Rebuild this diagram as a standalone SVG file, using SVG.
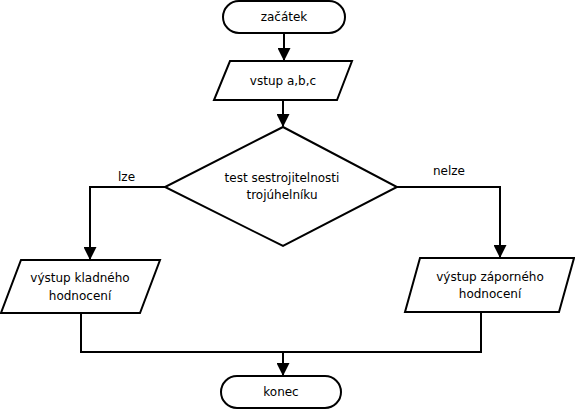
<svg xmlns="http://www.w3.org/2000/svg" width="575" height="409" viewBox="0 0 575 409">
<style>
.s{fill:#fff;stroke:#000;stroke-width:2}
.c{fill:none;stroke:#000;stroke-width:2}
text{font-family:"DejaVu Sans",sans-serif;font-size:12px;fill:#000}
.m{text-anchor:middle}
</style>
<defs>
<marker id="a" markerWidth="13" markerHeight="13" refX="12" refY="6.5" orient="auto" markerUnits="userSpaceOnUse">
<path d="M0,0 L13,6.5 L0,13 Z" fill="#000"/>
</marker>
</defs>
<rect width="575" height="409" fill="#fff"/>
<g id="connectors">
<path class="c" d="M284,33 V60" marker-end="url(#a)"/>
<path class="c" d="M283,100 V126" marker-end="url(#a)"/>
<path class="c" d="M165,187 H90 V259" marker-end="url(#a)"/>
<path class="c" d="M397,187 H500 V257" marker-end="url(#a)"/>
<path class="c" d="M81,313 V352 H481 V312"/>
<path class="c" d="M283,352 V375" marker-end="url(#a)"/>
<text x="118" y="181">lze</text>
<text x="433" y="175">nelze</text>
</g>
<g id="start">
<rect class="s" x="223" y="1" width="122" height="32" rx="16"/>
<text class="m" x="284" y="21">začátek</text>
</g>
<g id="input">
<polygon class="s" points="230,61 352,61 337,100 214,100"/>
<text class="m" x="283" y="85">vstup a,b,c</text>
</g>
<g id="decision">
<polygon class="s" points="283,127 397,187 283,246 165,187"/>
<text class="m" x="282" y="182">test sestrojitelnosti</text>
<text class="m" x="282" y="199">trojúhelníku</text>
</g>
<g id="positive">
<polygon class="s" points="21,260 160,260 140,313 1,313"/>
<text class="m" x="80" y="282">výstup kladného</text>
<text class="m" x="80" y="300">hodnocení</text>
</g>
<g id="negative">
<polygon class="s" points="420,258 574,258 559,312 405,312"/>
<text class="m" x="490" y="281">výstup záporného</text>
<text class="m" x="490" y="298">hodnocení</text>
</g>
<g id="end">
<rect class="s" x="221" y="376" width="120" height="32" rx="16"/>
<text class="m" x="281" y="396">konec</text>
</g>
</svg>
